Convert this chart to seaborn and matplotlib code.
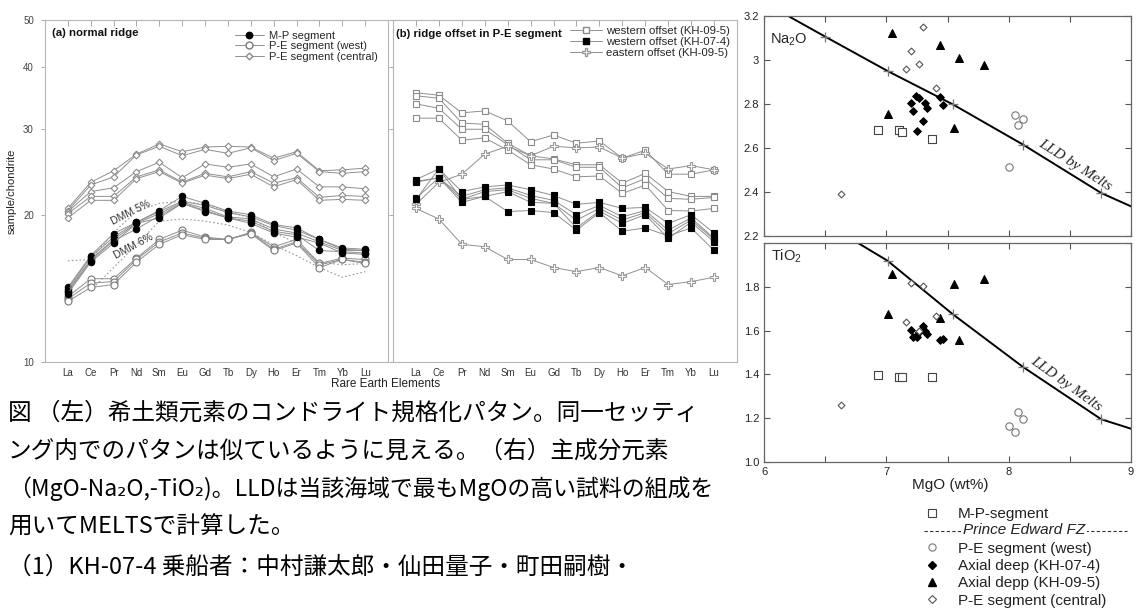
import numpy as np
import matplotlib
matplotlib.use("Agg")
import matplotlib.pyplot as plt
from matplotlib.lines import Line2D
from matplotlib.ticker import FixedLocator, NullLocator, FixedFormatter, NullFormatter
import seaborn as sns

# ---------------- data ----------------
elements = ["La", "Ce", "Pr", "Nd", "Sm", "Eu", "Gd", "Tb", "Dy", "Ho", "Er", "Tm", "Yb", "Lu"]

# (a) normal ridge (sample/chondrite)
mp_segment = [
    [14.2, 16.5, 18.3, 19.3, 20.4, 21.8, 21.1, 20.35, 20.0, 19.1, 18.8, 17.8, 17.1, 17.0],
    [14.1, 16.4, 18.0, 19.3, 20.3, 21.3, 20.9, 20.2, 19.8, 19.0, 18.6, 17.8, 17.0, 16.9],
    [14.0, 16.2, 17.8, 19.2, 20.1, 21.2, 20.6, 19.8, 19.6, 18.7, 18.35, 17.6, 16.9, 16.9],
    [13.9, 16.1, 17.7, 18.7, 19.9, 21.1, 20.4, 19.7, 19.4, 18.5, 18.2, 16.9, 16.8, 16.7],
    [13.8, 16.0, 17.5, 19.2, 19.7, 21.1, 20.3, 19.7, 19.2, 18.35, 18.0, 17.5, 16.7, 16.6],
]
pe_west = [
    [13.6, 14.8, 14.8, 16.3, 17.8, 18.6, 18.0, 17.8, 18.4, 17.2, 17.8, 15.9, 16.3, 16.2],
    [13.45, 14.5, 14.6, 16.2, 17.6, 18.35, 17.9, 17.8, 18.35, 17.0, 17.6, 15.8, 16.2, 16.0],
    [13.3, 14.2, 14.4, 16.0, 17.4, 18.2, 17.8, 17.8, 18.3, 16.9, 17.5, 15.6, 16.2, 15.9],
]
pe_central = [
    [20.6, 23.3, 24.6, 26.6, 27.9, 26.9, 27.5, 27.6, 27.5, 26.1, 26.9, 24.6, 24.7, 24.9],
    [20.4, 23.0, 23.9, 26.5, 27.6, 26.4, 27.2, 26.7, 27.4, 25.8, 26.7, 24.5, 24.3, 24.5],
    [20.3, 22.3, 22.7, 24.5, 25.6, 23.8, 25.4, 25.0, 25.4, 23.9, 24.8, 22.8, 22.8, 22.6],
    [20.1, 21.8, 21.8, 23.9, 24.7, 23.3, 24.3, 23.9, 24.5, 23.2, 23.8, 21.7, 21.9, 21.8],
    [19.7, 21.4, 21.4, 23.7, 24.5, 23.2, 24.1, 23.7, 24.2, 22.8, 23.6, 21.4, 21.5, 21.4],
]
dmm5 = [16.1, 16.2, 18.4, 20.3, 21.1, 21.3, 21.0, 20.3, 19.7, 18.4, 17.5, 16.0, 15.8, 15.9]
dmm6 = [np.nan, 14.0, 15.6, 17.35, 19.4, 19.6, 19.4, 19.05, 18.4, 17.35, 16.5, 15.6, 14.9, 15.3]

# (b) ridge offset in P-E segment
west_kh095 = [
    [35.5, 35.1, 32.3, 32.6, 31.1, 28.2, 29.1, 28.0, 28.3, 26.1, 27.1, 24.2, 24.2, 24.7],
    [35.0, 34.6, 30.8, 30.6, 28.0, 26.4, 26.0, 25.3, 25.3, 23.2, 24.3, 22.3, 21.8, 21.8],
    [33.7, 33.0, 29.9, 29.9, 27.8, 25.9, 25.9, 25.0, 25.0, 22.7, 23.7, 21.6, 21.5, 21.7],
    [31.5, 31.5, 28.4, 28.7, 27.1, 25.3, 24.8, 23.9, 24.0, 22.1, 23.0, 20.4, 20.35, 20.6],
]
west_kh074 = [
    [23.6, 24.8, 22.3, 22.8, 23.0, 22.5, 21.9, 21.0, 21.2, 20.6, 20.7, 19.2, 20.0, 18.35],
    [23.4, 23.8, 21.8, 22.5, 22.7, 21.9, 21.4, 20.0, 20.9, 19.8, 20.4, 18.6, 19.7, 17.9],
    [23.3, 23.8, 21.5, 22.3, 22.5, 21.6, 21.1, 19.5, 20.6, 19.5, 20.2, 18.3, 19.5, 17.8],
    [21.6, 23.8, 21.2, 21.8, 22.3, 21.2, 21.1, 18.8, 20.35, 19.2, 20.0, 17.9, 19.3, 17.6],
    [21.5, 24.8, 21.5, 21.8, 20.3, 20.4, 20.2, 18.6, 20.2, 18.5, 18.8, 18.1, 18.8, 16.9],
]
east_kh095 = [
    [21.0, 23.3, 24.2, 26.6, 27.6, 26.4, 27.6, 27.4, 27.5, 26.1, 26.7, 24.8, 25.2, 24.7],
    [20.6, 19.6, 17.4, 17.2, 16.2, 16.2, 15.6, 15.3, 15.6, 15.0, 15.6, 14.4, 14.6, 14.9],
]

# major elements (wt%)
mp_mgo = [6.93, 7.10, 7.13, 7.37]
mp_na2o = [2.680, 2.680, 2.670, 2.639]
mp_tio2 = [1.399, 1.389, 1.389, 1.389]

pew_mgo = [8.05, 8.12, 8.08, 8.00]
pew_na2o = [2.748, 2.729, 2.703, 2.514]
pew_tio2 = [1.137, 1.198, 1.229, 1.165]

ax074_mgo = [7.24, 7.27, 7.20, 7.32, 7.33, 7.44, 7.46, 7.22, 7.30, 7.25]
ax074_na2o = [2.836, 2.827, 2.802, 2.802, 2.783, 2.832, 2.794, 2.768, 2.723, 2.676]
ax074_tio2 = [1.575, 1.595, 1.602, 1.598, 1.584, 1.559, 1.561, 1.569, 1.620, 1.572]

ax095_mgo = [7.05, 7.44, 7.59, 7.80, 7.01, 7.55]
ax095_na2o = [3.12, 3.067, 3.009, 2.976, 2.752, 2.688]
ax095_tio2 = [1.857, 1.659, 1.556, 1.834, 1.678, 1.811]

pec_mgo = [7.30, 7.20, 7.27, 7.16, 7.41, 6.63]
pec_na2o = [3.15, 3.041, 2.983, 2.958, 2.870, 2.389]
pec_tio2 = [1.805, 1.819, 1.600, 1.637, 1.666, 1.262]

lld_mgo = [6.0, 6.50, 7.01, 7.545, 8.117, 8.757, 9.3]
lld_na2o = [3.26, 3.105, 2.949, 2.797, 2.615, 2.395, 2.26]
lld_tio2 = [2.255, 2.09, 1.919, 1.674, 1.434, 1.195, 1.099]

caption = [
    "図 （左）希土類元素のコンドライト規格化パタン。同一セッティ",
    "ング内でのパタンは似ているように見える。（右）主成分元素",
    "（MgO-Na₂O,-TiO₂)。LLDは当該海域で最もMgOの高い試料の組成を",
    "用いてMELTSで計算した。",
    "（1）KH-07-4 乗船者：中村謙太郎・仙田量子・町田嗣樹・",
]
caption_size = [17, 17, 16.5, 17, 17]

# ---------------- style ----------------
sns.set_style("white")
plt.rcParams["font.family"] = ["Liberation Sans", "DejaVu Sans"]
plt.rcParams["mathtext.default"] = "regular"
cap_family = ["Noto Sans CJK JP", "DejaVu Sans"]

W, H = 1136, 612
fig = plt.figure(figsize=(W / 100, H / 100), dpi=100)


def fx(px):
    return px / W


def fy(py):
    return 1 - py / H


def rect(l, t, r, b):
    return [l / W, 1 - b / H, (r - l) / W, (b - t) / H]


ax_a = fig.add_axes(rect(45, 20, 388, 362))
ax_b = fig.add_axes(rect(393, 20, 737, 362))
ax_na = fig.add_axes(rect(764, 15.7, 1131, 236))
ax_ti = fig.add_axes(rect(764, 243, 1131, 462))

xpos = np.arange(1, len(elements) + 1)
LC = "#8f8f8f"


def ree(ax, rows, marker, ms, mfc, mec, lc=LC, lw=0.7, ls="-", z=2):
    for vals in rows:
        sns.lineplot(x=xpos, y=np.asarray(vals, float), ax=ax, estimator=None,
                     errorbar=None, sort=False, color=lc, linewidth=lw, linestyle=ls,
                     marker=marker, markersize=ms, markerfacecolor=mfc,
                     markeredgecolor=mec, markeredgewidth=0.8, zorder=z, legend=False)


# panel (a)
ree(ax_a, pe_central, "D", 3.4, "white", "#8a8a8a")
ree(ax_a, [dmm5, dmm6], None, 0, "none", "none", lc="#9a9a9a", lw=0.8, ls=(0, (1.5, 2)))
ree(ax_a, pe_west, "o", 5.0, "white", "#7a7a7a")
ree(ax_a, mp_segment, "o", 4.6, "black", "black", z=3)

# panel (b)
ree(ax_b, west_kh095, "s", 4.4, "white", "#8a8a8a")
ree(ax_b, east_kh095, "P", 5.5, "white", "#9a9a9a")
ree(ax_b, west_kh074, "s", 4.4, "black", "black", z=3)

for ax in (ax_a, ax_b):
    ax.set_yscale("log")
    ax.set_ylim(10, 50)
    ax.set_xlim(0, 15)
    ax.yaxis.set_major_locator(FixedLocator([10, 20, 30, 40, 50]))
    ax.yaxis.set_minor_locator(NullLocator())
    ax.set_xticks(xpos)
    ax.set_xticklabels(elements)
    ax.tick_params(axis="x", bottom=False, top=True, direction="in", length=4, width=0.7,
                   color="#aaaaaa", labelsize=7, labelcolor="#333333", pad=4)
    ax.tick_params(axis="y", left=True, right=False, direction="out", length=3, width=0.7,
                   color="#aaaaaa", labelsize=7, labelcolor="#444444", pad=5)
    for sp in ax.spines.values():
        sp.set_color("#b5b5b5")
        sp.set_linewidth(0.8)
    ax.set_xlabel("")
    ax.set_ylabel("")
ax_a.yaxis.set_major_formatter(FixedFormatter(["10", "20", "30", "40", "50"]))
ax_b.yaxis.set_major_formatter(NullFormatter())

ax_a.text(0.02, 0.962, "(a) normal ridge", transform=ax_a.transAxes, fontsize=8.2,
          fontweight="bold", va="center", color="#111111")
ax_b.text(0.009, 0.959, "(b) ridge offset in P-E segment", transform=ax_b.transAxes,
          fontsize=8.2, fontweight="bold", va="center", color="#111111")
ax_a.text(3.76, 20.2, "DMM 5%", rotation=27, fontsize=7.5, ha="center", va="center", color="#333333")
ax_a.text(3.85, 17.2, "DMM 6%", rotation=28, fontsize=7.5, ha="center", va="center", color="#333333")

legA = [
    Line2D([], [], color=LC, lw=0.7, marker="o", ms=4.6, mfc="black", mec="black"),
    Line2D([], [], color=LC, lw=0.7, marker="o", ms=5.0, mfc="white", mec="#7a7a7a"),
    Line2D([], [], color=LC, lw=0.7, marker="D", ms=3.4, mfc="white", mec="#8a8a8a"),
]
ax_a.legend(legA, ["M-P segment", "P-E segment (west)", "P-E segment (central)"],
            loc="upper left", bbox_to_anchor=(0.554, 0.969), frameon=False, fontsize=8,
            handlelength=2.6, handletextpad=0.5, labelspacing=0.05, borderpad=0,
            borderaxespad=0)
legB = [
    Line2D([], [], color=LC, lw=0.7, marker="s", ms=4.4, mfc="white", mec="#8a8a8a"),
    Line2D([], [], color=LC, lw=0.7, marker="s", ms=4.4, mfc="black", mec="black"),
    Line2D([], [], color=LC, lw=0.7, marker="P", ms=5.5, mfc="white", mec="#9a9a9a"),
]
ax_b.legend(legB, ["western offset (KH-09-5)", "western offset (KH-07-4)", "eastern offset (KH-09-5)"],
            loc="upper left", bbox_to_anchor=(0.5145, 0.982), frameon=False, fontsize=8.2,
            handlelength=2.8, handletextpad=0.4, labelspacing=0.1, borderpad=0,
            borderaxespad=0)

# ---------------- major element panels ----------------
def pts(ax, x, y, marker, s, fc, ec, lw=0.8, z=3):
    sns.scatterplot(x=x, y=y, ax=ax, marker=marker, s=s, color=fc, edgecolor=ec,
                    linewidth=lw, zorder=z, legend=False)


for ax, yv in ((ax_na, "na"), (ax_ti, "ti")):
    lly = lld_na2o if yv == "na" else lld_tio2
    sns.lineplot(x=lld_mgo, y=lly, ax=ax, sort=False, estimator=None, errorbar=None,
                 color="black", linewidth=1.4, zorder=2, legend=False)
    sns.scatterplot(x=lld_mgo, y=lly, ax=ax, marker="+", s=60, color="#777777",
                    linewidth=0.9, zorder=2, legend=False)
    pts(ax, mp_mgo, mp_na2o if yv == "na" else mp_tio2, "s", 30, "white", "#444444")
    pts(ax, pew_mgo, pew_na2o if yv == "na" else pew_tio2, "o", 28, "white", "#777777")
    pts(ax, ax074_mgo, ax074_na2o if yv == "na" else ax074_tio2, "D", 15, "black", "black")
    pts(ax, ax095_mgo, ax095_na2o if yv == "na" else ax095_tio2, "^", 32, "black", "black")
    pts(ax, pec_mgo, pec_na2o if yv == "na" else pec_tio2, "D", 12, "white", "#555555")

    ax.set_xlim(6, 9)
    ax.xaxis.set_major_locator(FixedLocator([6, 7, 8, 9]))
    ax.xaxis.set_minor_locator(FixedLocator([6.5, 7.5, 8.5]))
    ax.tick_params(which="both", direction="in", top=True, right=True, bottom=True, left=True,
                   length=4, width=0.8, color="#555555", labelsize=8, labelcolor="#222222")
    for sp in ax.spines.values():
        sp.set_color("#666666")
        sp.set_linewidth(0.9)
    ax.set_xlabel("")
    ax.set_ylabel("")

ax_na.set_ylim(2.2, 3.2)
ax_na.yaxis.set_major_locator(FixedLocator([2.2, 2.4, 2.6, 2.8, 3.0, 3.2]))
ax_na.yaxis.set_major_formatter(FixedFormatter(["2.2", "2.4", "2.6", "2.8", "3", "3.2"]))
ax_na.tick_params(labelbottom=False)
ax_ti.set_ylim(1.0, 2.0)
ax_ti.yaxis.set_major_locator(FixedLocator([1.0, 1.2, 1.4, 1.6, 1.8, 2.0]))
ax_ti.yaxis.set_major_formatter(FixedFormatter(["1.0", "1.2", "1.4", "1.6", "1.8", ""]))
ax_ti.xaxis.set_major_formatter(FixedFormatter(["6", "7", "8", "9"]))

ax_na.text(0.016, 0.89, "Na$_2$O", transform=ax_na.transAxes, fontsize=10.5, va="center")
ax_ti.text(0.02, 0.94, "TiO$_2$", transform=ax_ti.transAxes, fontsize=10.5, va="center")
ax_na.text(8.54, 2.52, "LLD by Melts", family="Liberation Serif", style="italic", fontsize=11,
           rotation=-32.6, rotation_mode="anchor", ha="center", va="center")
ax_ti.text(8.47, 1.356, "LLD by Melts", family="Liberation Serif", style="italic", fontsize=11,
           rotation=-35.5, rotation_mode="anchor", ha="center", va="center")

# ---------------- figure texts ----------------
fig.text(fx(12), fy(191), "sample/chondrite", rotation=90, fontsize=8, ha="center",
         va="center", color="#222222")
fig.text(fx(386), fy(384), "Rare Earth Elements", fontsize=8.5, ha="center", va="center",
         color="#222222")
fig.text(fx(950), fy(485), "MgO (wt%)", fontsize=11, ha="center", va="center", color="#222222")

# scatter legend
legS = [
    Line2D([], [], ls="none", marker="s", ms=5.2, mfc="white", mec="#444444", mew=0.8),
    Line2D([], [], ls="none"),
    Line2D([], [], ls="none", marker="o", ms=5.2, mfc="white", mec="#777777", mew=0.8),
    Line2D([], [], ls="none", marker="D", ms=3.6, mfc="black", mec="black"),
    Line2D([], [], ls="none", marker="^", ms=5.2, mfc="black", mec="black"),
    Line2D([], [], ls="none", marker="D", ms=3.6, mfc="white", mec="#555555", mew=0.8),
]
fig.legend(legS, ["M-P-segment", " ", "P-E segment (west)", "Axial deep (KH-07-4)",
                  "Axial depp (KH-09-5)", "P-E segment (central)"],
           loc="upper left", bbox_to_anchor=(fx(924), fy(507)), frameon=False, fontsize=11,
           handlelength=1.05, handletextpad=1.15, labelspacing=0.22, borderpad=0,
           borderaxespad=0, labelcolor="#222222")
fig.add_artist(Line2D([fx(924), fx(1127)], [fy(531), fy(531)], transform=fig.transFigure,
                      ls=(0, (3, 2)), color="#333333", lw=0.8, zorder=1))
fig.text(fx(1024), fy(530), "Prince Edward FZ", fontsize=11, style="italic", ha="center",
         va="center", color="#222222", zorder=5,
         bbox=dict(boxstyle="square,pad=0.15", fc="white", ec="none"))

# caption (Japanese)
cap_y = [413, 451, 489, 527, 567]
for t, y, fs in zip(caption, cap_y, caption_size):
    fig.text(fx(8), fy(y), t, fontsize=fs, family=cap_family,
             ha="left", va="center", color="black")

fig.savefig("out.png", dpi=100)
